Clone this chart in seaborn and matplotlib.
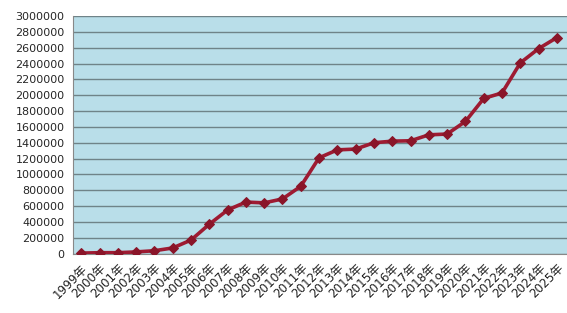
import matplotlib
matplotlib.use("Agg")
import matplotlib.pyplot as plt
import seaborn as sns
import pandas as pd
import numpy as np
from matplotlib.ticker import FixedLocator

years = [f"{y}年" for y in range(1999, 2026)]
values = [5000, 10000, 10000, 20000, 35000, 70000, 170000, 370000, 550000,
          650000, 640000, 690000, 850000, 1210000, 1310000, 1320000, 1400000,
          1420000, 1425000, 1500000, 1510000, 1670000, 1960000, 2030000,
          2410000, 2590000, 2730000]
yticks = list(range(0, 3000001, 200000))

df = pd.DataFrame({"year": years, "value": values})
df["pos"] = np.arange(len(years))

sns.set_style("white")
plt.rcParams['font.family'] = ['DejaVu Sans', 'Noto Sans CJK SC']

fig = plt.figure(figsize=(5.67, 3.13), dpi=100)
ax = fig.add_axes([73/567, 1-253.5/313, 1-73/567, (253.5-15.7)/313])
ax.set_facecolor("#b9dee9")

sns.lineplot(data=df, x="pos", y="value", ax=ax, color="#9e1b32", linewidth=2.6,
             marker="D", markersize=5, markeredgecolor="#8a1529",
             markerfacecolor="#8a1529", zorder=3)

ax.set_xlim(-0.45, len(years) - 0.45)
ax.set_ylim(0, 3006000)
ax.set_yticks(yticks)
ax.set_yticklabels([str(v) for v in yticks], fontsize=8)
ax.yaxis.grid(True, color="#6f8388", linewidth=1.0)
ax.set_axisbelow(True)

ax.set_xticks(df["pos"])
ax.set_xticklabels(years, rotation=45, ha="right", rotation_mode="anchor",
                   fontsize=8.6, color="#222222")
ax.tick_params(axis="x", which="major", length=0, pad=6)
ax.xaxis.set_minor_locator(FixedLocator(np.arange(-0.5, len(years) + 0.5, 1)))
ax.tick_params(axis="x", which="minor", length=4, color="#888888", direction="out")
ax.tick_params(axis="y", length=4, color="#888888", direction="out", pad=2)

ax.set_xlabel("")
ax.set_ylabel("")
for s in ["top", "right"]:
    ax.spines[s].set_visible(False)
ax.spines["left"].set_color("#888888")
ax.spines["bottom"].set_color("#888888")

fig.savefig("out.png", dpi=100)
